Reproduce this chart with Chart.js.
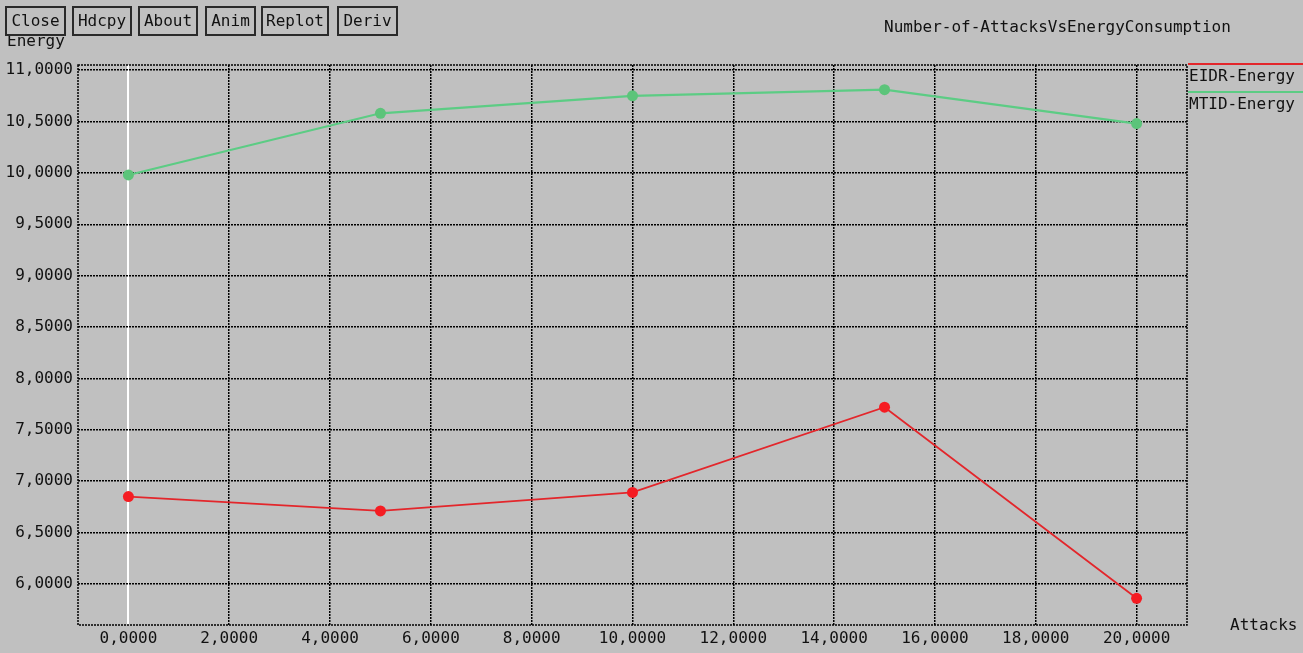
<!DOCTYPE html>
<html>
<head>
<meta charset="utf-8">
<script src="https://cdn.jsdelivr.net/npm/chart.js@4/dist/chart.umd.min.js"></script>
<style>
  html, body { margin: 0; padding: 0; background: #c0c0c0; }
  #wrap { position: relative; width: 1303px; height: 653px; overflow: hidden; font-family: "DejaVu Sans Mono", monospace; color: #111; }
  #chart { position: absolute; left: 0; top: 0; }
  .btn { position: absolute; top: 6px; height: 30px; box-sizing: border-box; border: 2px solid #2a2a2a; background: #c0c0c0;
         font-size: 16px; line-height: 26px; text-align: center; z-index: 2; }
  .lbl { position: absolute; font-size: 16px; white-space: nowrap; }
</style>
</head>
<body>
<div id="wrap">
  <canvas id="chart" width="1303" height="653"></canvas>
  <div class="btn" style="left:5px;width:61px">Close</div>
  <div class="btn" style="left:72px;width:60px">Hdcpy</div>
  <div class="btn" style="left:138px;width:60px">About</div>
  <div class="btn" style="left:205px;width:51px">Anim</div>
  <div class="btn" style="left:261px;width:68px">Replot</div>
  <div class="btn" style="left:337px;width:61px">Deriv</div>
  <div class="lbl" style="left:7px;top:31px;z-index:1">Energy</div>
  <div class="lbl" style="left:884px;top:17px">Number-of-AttacksVsEnergyConsumption</div>
  <div class="lbl" style="left:1230px;top:615px">Attacks</div>
</div>
<script>
  // values
  const attacks = [0, 5, 10, 15, 20];
  const eidrEnergy = [6.85, 6.71, 6.89, 7.72, 5.86];
  const mtidEnergy = [9.98, 10.58, 10.75, 10.81, 10.48];
  const seriesNames = ["EIDR-Energy", "MTID-Energy"];
  const seriesColors = ["#e3262b", "#5ccc84"];
  const pointColors = ["#f51c22", "#5cc47a"];
  const xTicks = [0, 2, 4, 6, 8, 10, 12, 14, 16, 18, 20];
  const yTicks = [6, 6.5, 7, 7.5, 8, 8.5, 9, 9.5, 10, 10.5, 11];

  const fmt = v => v.toFixed(4).replace(".", ",");
  const toPoints = ys => attacks.map((x, i) => ({ x: x, y: ys[i] }));
  const DOTS = [2, 1];

  // dotted frame round the plot area plus the legend on the right
  const framePlugin = {
    id: "frame",
    beforeDatasetsDraw(chart) {
      const a = chart.chartArea, c = chart.ctx;
      c.save();
      c.strokeStyle = "#000";
      c.lineWidth = 1.5;
      c.setLineDash(DOTS);
      c.strokeRect(Math.round(a.left), Math.round(a.top), Math.round(a.right - a.left), Math.round(a.bottom - a.top));
      c.restore();
    },
    afterDraw(chart) {
      const c = chart.ctx;
      c.save();
      c.font = '16px "DejaVu Sans Mono", monospace';
      c.textBaseline = "middle";
      seriesNames.forEach((name, i) => {
        const y = 64 + i * 28;
        c.strokeStyle = seriesColors[i];
        c.lineWidth = 2;
        c.beginPath();
        c.moveTo(1188, y);
        c.lineTo(1303, y);
        c.stroke();
        c.fillStyle = "#111";
        c.fillText(name, 1189, y + 13);
      });
      c.restore();
    }
  };

  const isZero = ctx => ctx.tick && ctx.tick.value === 0;

  new Chart(document.getElementById("chart"), {
    type: "line",
    data: {
      datasets: [
        {
          label: seriesNames[0],
          data: toPoints(eidrEnergy),
          borderColor: seriesColors[0],
          backgroundColor: pointColors[0],
          pointBackgroundColor: pointColors[0],
          pointBorderWidth: 0,
          pointRadius: 5.5,
          borderWidth: 1.8,
          tension: 0
        },
        {
          label: seriesNames[1],
          data: toPoints(mtidEnergy),
          borderColor: seriesColors[1],
          backgroundColor: pointColors[1],
          pointBackgroundColor: pointColors[1],
          pointBorderWidth: 0,
          pointRadius: 5.5,
          borderWidth: 2.2,
          tension: 0
        }
      ]
    },
    options: {
      responsive: false,
      animation: false,
      layout: { padding: { top: 65, right: 116, left: 0, bottom: 0 } },
      plugins: { legend: { display: false }, tooltip: { enabled: false } },
      scales: {
        x: {
          type: "linear",
          min: -1,
          max: 21,
          afterBuildTicks: s => { s.ticks = xTicks.map(v => ({ value: v })); },
          afterFit: s => { s.height = 28; },
          grid: { color: ctx => (isZero(ctx) ? "#ffffff" : "#000"), lineWidth: ctx => (isZero(ctx) ? 2 : 1.5), drawTicks: false },
          border: { display: false, dash: ctx => (isZero(ctx) ? [] : DOTS) },
          ticks: { color: "#111", padding: 4, maxRotation: 0, autoSkip: false, font: { family: "DejaVu Sans Mono", size: 16 }, callback: v => fmt(v) }
        },
        y: {
          min: 5.6,
          max: 11.05,
          afterBuildTicks: s => { s.ticks = yTicks.map(v => ({ value: v })); },
          afterFit: s => { s.width = 78; },
          grid: { color: "#000", lineWidth: 1.5, drawTicks: false },
          border: { display: false, dash: DOTS },
          ticks: { color: "#111", padding: 5, autoSkip: false, font: { family: "DejaVu Sans Mono", size: 16 }, callback: v => fmt(v) }
        }
      }
    },
    plugins: [framePlugin]
  });
</script>
</body>
</html>
